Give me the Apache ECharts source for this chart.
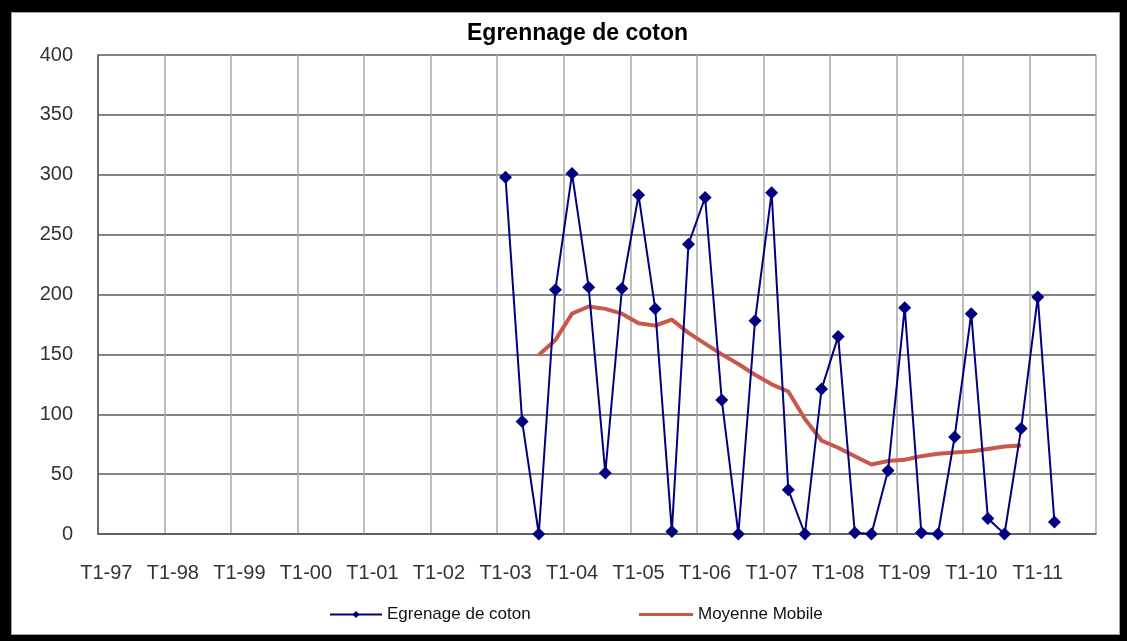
<!DOCTYPE html>
<html>
<head>
<meta charset="utf-8">
<script src="https://cdn.jsdelivr.net/npm/echarts@6/dist/echarts.min.js"></script>
<style>
  html, body { margin: 0; padding: 0; background: #000; }
  #frame {
    position: absolute; left: 11px; top: 12px;
    width: 1109px; height: 623px;
    box-sizing: border-box; border: 1px solid #a0a0a0; background: #fff;
  }
  #chart { width: 100%; height: 100%; }
</style>
</head>
<body>
<div id="frame"><div id="chart"></div></div>
<script>
// years shown on the axis, one label per quarter (T1..T4)
const years = ['97', '98', '99', '00', '01', '02', '03', '04', '05', '06', '07', '08', '09', '10', '11']
const quarters = ['T1', 'T2', 'T3', 'T4']
const categories = []
years.forEach(y => quarters.forEach(q => categories.push(q + '-' + y)))

// Egrenage de coton, per quarter (T1..T4 on each row)
const cotton = [
  null, null, null, null, // 97
  null, null, null, null, // 98
  null, null, null, null, // 99
  null, null, null, null, // 00
  null, null, null, null, // 01
  null, null, null, null, // 02
  298, 94, 0, 204,        // 03
  301, 206, 51, 205,      // 04
  283, 188, 2, 242,       // 05
  281, 112, 0, 178,       // 06
  285, 37, 0, 121,        // 07
  165, 1, 0, 53,          // 08
  189, 1, 0, 81,          // 09
  184, 13, 0, 88,         // 10
  198, 10, null, null,    // 11
]

// Moyenne Mobile
const movingAvg = [
  null, null, null, null,
  null, null, null, null,
  null, null, null, null,
  null, null, null, null,
  null, null, null, null,
  null, null, null, null,
  null, null, 149.5, 162, // 03
  184, 190, 188, 184,     // 04
  176, 174, 179, 168,     // 05
  159, 150, 142, 133,     // 06
  125, 119, 96, 78,       // 07
  72, 65, 58, 61,         // 08
  62, 65, 67, 68,         // 09
  69, 71, 73, 74,         // 10
  null, null, null, null, // 11
]

const yMin = 0
const yMax = 400
const yStep = 50

const font = "'Liberation Sans', Arial, sans-serif"

const chart = echarts.init(document.getElementById('chart'))
chart.setOption({
  backgroundColor: '#fff',
  animation: false,
  title: {
    text: 'Egrennage de coton',
    left: 455,
    top: 9,
    padding: 0,
    textStyle: { fontFamily: font, fontSize: 23, fontWeight: 'bold', color: '#000' },
  },
  legend: [
    {
      data: ['Egrenage de coton'],
      left: 317,
      top: 593,
      padding: 0,
      itemWidth: 52,
      itemHeight: 9,
      itemGap: 5,
      textStyle: { fontFamily: font, fontSize: 17, color: '#111' },
    },
    {
      data: [{ name: 'Moyenne Mobile', icon: 'rect' }],
      left: 627,
      top: 593,
      padding: 0,
      itemWidth: 54,
      itemHeight: 3,
      textStyle: { fontFamily: font, fontSize: 17, color: '#111' },
    },
  ],
  grid: { left: 86, top: 42, right: 23, bottom: 100, containLabel: false },
  xAxis: {
    type: 'category',
    data: categories,
    boundaryGap: true,
    axisLine: { lineStyle: { color: '#555', width: 1.5 } },
    axisTick: { interval: 3, length: 5, lineStyle: { color: '#555' } },
    axisLabel: { interval: 3, margin: 29, fontFamily: font, fontSize: 20, color: '#333' },
    splitLine: { show: true, interval: 3, lineStyle: { color: '#a8a8a8', width: 1.5 } },
  },
  yAxis: {
    type: 'value',
    min: yMin,
    max: yMax,
    interval: yStep,
    axisLine: { show: true, lineStyle: { color: '#555', width: 1.5 } },
    axisTick: { show: false },
    axisLabel: { margin: 25, fontFamily: font, fontSize: 20, color: '#333' },
    splitLine: { lineStyle: { color: '#5a5a5a', width: 1.5 } },
  },
  series: [
    {
      name: 'Egrenage de coton',
      type: 'line',
      data: cotton,
      clip: false,
      symbol: 'diamond',
      symbolSize: 13,
      showAllSymbol: true,
      itemStyle: { color: '#000080' },
      lineStyle: { color: '#000080', width: 2 },
      z: 3,
    },
    {
      name: 'Moyenne Mobile',
      type: 'line',
      data: movingAvg,
      showSymbol: false,
      symbol: 'none',
      itemStyle: { color: '#c8584a' },
      lineStyle: { color: '#c8584a', width: 4 },
      z: 2,
    },
  ],
})
</script>
</body>
</html>
